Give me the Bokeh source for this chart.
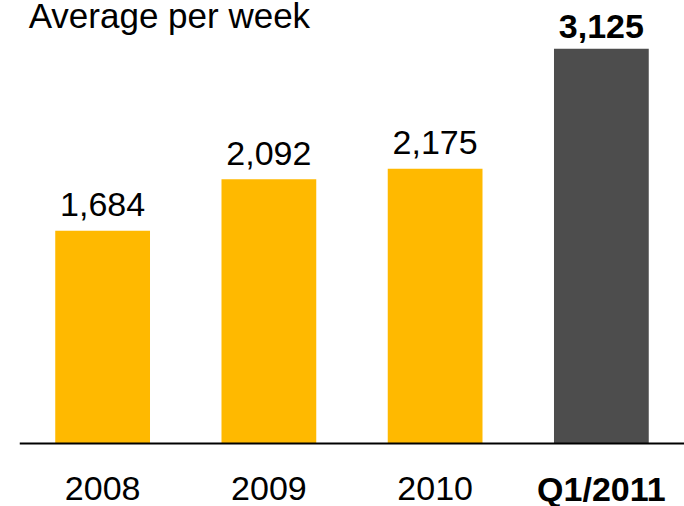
from bokeh.plotting import figure
from bokeh.models import FactorRange, Range1d, Span, ColumnDataSource
from bokeh.core.properties import value
from bokeh.embed import file_html
from bokeh.resources import INLINE

categories = ["2008", "2009", "2010", "Q1/2011"]
values = [1684, 2092, 2175, 3125]
value_labels = ["1,684", "2,092", "2,175", "3,125"]
bar_colors = ["#FFB900", "#FFB900", "#FFB900", "#4D4D4D"]
label_styles = ["normal", "normal", "normal", "bold"]
title_text = "Average per week"

W, H = 684, 506
LEFT = 19
BASE_PX = 443          # baseline position from top of figure
PX_PER_UNIT = 0.1263
Y_END = BASE_PX / PX_PER_UNIT
Y_START = -(H - BASE_PX) / PX_PER_UNIT
FONT = "Liberation Sans"
SHIFT = 10             # text baseline correction in px

p = figure(width=W, height=H, output_backend="svg", toolbar_location=None,
           x_range=FactorRange(factors=categories, range_padding=0),
           y_range=Range1d(Y_START, Y_END),
           min_border_left=LEFT, min_border_right=0, min_border_top=0, min_border_bottom=0)
p.axis.visible = False
p.grid.visible = False
p.outline_line_color = None
p.background_fill_color = "white"
p.border_fill_color = "white"

src = ColumnDataSource(dict(
    cat=categories, val=values, lab=value_labels, color=bar_colors, style=label_styles,
    laby=[v + ((12 if s == "bold" else 16) + SHIFT) / PX_PER_UNIT for v, s in zip(values, label_styles)],
    caty=[-(55 - SHIFT) / PX_PER_UNIT] * len(categories)))

p.vbar(x="cat", top="val", bottom=0, width=0.57, color="color", line_color=None, source=src)

p.add_layout(Span(location=0, dimension="width", line_color="#000000", line_width=2))

p.text(x="cat", y="laby", text="lab", text_align="center", text_baseline="alphabetic",
       text_font=value(FONT), text_font_size="34px", text_font_style="style",
       text_color="#000000", source=src)

p.text(x="cat", y="caty", text="cat", text_align="center", text_baseline="alphabetic",
       text_font=value(FONT), text_font_size="34px", text_font_style="style",
       text_color="#000000", source=src)

p.text(x=[categories[0]], y=[Y_END - (25 - SHIFT) / PX_PER_UNIT], text=[title_text],
       x_offset=-74, text_align="left", text_baseline="alphabetic",
       text_font=value(FONT), text_font_size="35px", text_color="#000000")

open("out.html", "w").write(file_html(p, INLINE))
